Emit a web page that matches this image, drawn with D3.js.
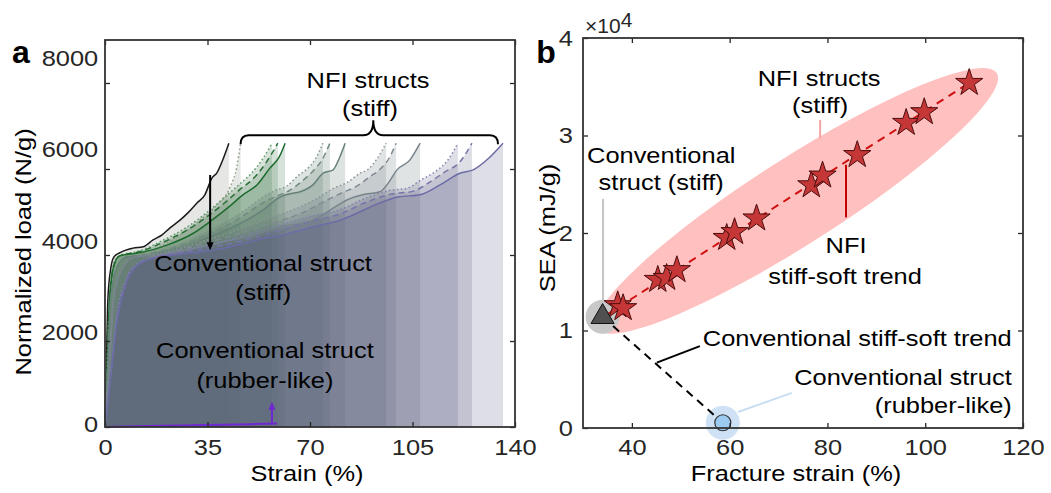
<!DOCTYPE html>
<html>
<head>
<meta charset="utf-8">
<script src="https://cdn.jsdelivr.net/npm/d3@7"></script>
<style>
  body { margin: 0; background: #fff; }
  text { font-family: "Liberation Sans", Arial, sans-serif; fill: #000; }
  .tick text { fill: #262626; }
</style>
</head>
<body>
<svg id="fig" width="1051" height="493"></svg>
<script>
// ---------------------------------------------------------------------------
// Data (panel a: strain %, normalized load N/g)
const aStrainTicks = [0, 35, 70, 105, 140];
const aLoadTicks = [0, 2000, 4000, 6000, 8000];

const convStiff = [[0,0],[0.5,1500],[1,3000],[2,3700],[3,3950],[5,4050],[9.6,4160],[13,4190],[16.4,4350],[19.5,4470],[22.2,4630],[25.6,4810],[28.3,4980],[31.4,5210],[34.1,5400],[36.5,5790],[38.2,5910],[40.2,6210],[42.3,6600]];
const convRubber = [[0,0],[10,15],[20,28],[30,40],[40,52],[50,66],[58.8,80]];

const nfiG1Dot = [[0,0],[0.7,1500],[1.5,3000],[2.5,3700],[4,3950],[10,4000],[15.4,4070],[21.2,4280],[26.6,4510],[32.4,4810],[38.2,5160],[42.7,5580],[45,6050],[46.3,6600]];

const nfiG2Dot = [[0,0],[0.8,1500],[1.6,3000],[3,3750],[5,3980],[12,4100],[20,4350],[28,4650],[35,5000],[41,5350],[46,5650],[50,5900],[54,6250],[57,6600]];
const nfiG2Dash = [[0,0],[0.8,1500],[1.6,3000],[3,3750],[5,3980],[12,4080],[20,4300],[28,4580],[35,4900],[41,5220],[46,5520],[51,5800],[55,6150],[59,6600]];
const nfiG2Sol = [[0,0],[0.8,1500],[1.6,3000],[3,3750],[5,3980],[12,4050],[21.2,4230],[30,4500],[36.5,4810],[42,5100],[47.1,5400],[51.9,5630],[56.3,6020],[59.5,6280],[61.5,6600]];

const nfiG3Dot = [[0,0],[1,1500],[2,3000],[4,3700],[7,3950],[15,4050],[25,4250],[35,4550],[42,4800],[48,5050],[54,5350],[58,5500],[62,5600],[66,5850],[69,6000],[72,6250],[74.4,6600]];
const nfiG3Dash = [[0,0],[1,1500],[2,3000],[4,3700],[7,3950],[15,4030],[25,4200],[35,4480],[42,4700],[48,4950],[54,5220],[59,5380],[63,5500],[67,5700],[71,5950],[74,6200],[76.8,6600]];
const nfiG3Sol = [[0,0],[1,1500],[2,3000],[4,3700],[7,3950],[15,4000],[25,4150],[35,4400],[42,4600],[48,4800],[54,5050],[59.8,5350],[63,5420],[66.6,5470],[71,5630],[74.4,5900],[77.9,5980],[80,6250],[82,6600]];

const nfiG4Dot = [[0,0],[1.5,1500],[3,3000],[6,3700],[10,3950],[20,4050],[30,4250],[40,4450],[50,4700],[60,4950],[66,5100],[72,5300],[78,5550],[83,5700],[87,5900],[90,6000],[93,6250],[96,6600]];
const nfiG4Dash = [[0,0],[1.5,1500],[3,3000],[6,3700],[10,3950],[20,4020],[30,4200],[40,4380],[50,4580],[60,4800],[68,5000],[75,5250],[81,5450],[86,5600],[90,5800],[94,6000],[97,6250],[99.4,6600]];
const nfiG4Sol = [[0,0],[1.5,1500],[3,3000],[6,3700],[10,3950],[20,4000],[30,4150],[40,4300],[50,4450],[59.8,4650],[71,4810],[77,5050],[82.6,5280],[88,5400],[93.9,5470],[97,5700],[99.7,5980],[104,6200],[107.6,6600]];

const nfiG5Dot = [[0,0],[2,1300],[4,2600],[7,3400],[11,3800],[18,3980],[30,4150],[45,4400],[60,4700],[70,4900],[80,5050],[90,5350],[97,5500],[103,5550],[108,5750],[113,5950],[117,6200],[120.5,6600]];
const nfiG5Dash = [[0,0],[2,1250],[4,2500],[7,3350],[11,3780],[18,3960],[30,4100],[45,4300],[60,4580],[70,4780],[80,4950],[90,5250],[98,5420],[105,5480],[111,5700],[116,5930],[121,6150],[125.3,6600]];
const nfiG5Sol = [[0,0],[2,1200],[4,2400],[7,3300],[11,3750],[17.8,3950],[30,4050],[40,4150],[55.3,4400],[59.8,4450],[71,4650],[80.3,4810],[93.9,5210],[100,5350],[107.6,5400],[114.4,5630],[121.2,5900],[125.7,5980],[131,6250],[135.9,6600]];

// Data (panel b: fracture strain %, SEA x1e4 mJ/g)
const bStrainTicks = [40, 60, 80, 100, 120];
const bSeaTicks = [0, 1, 2, 3, 4];
const nfiStrain = [37.1, 38.2, 45.3, 47.1, 49.2, 59.4, 61.0, 65.5, 76.7, 79.0, 86.1, 96.1, 99.8, 109.0];
const nfiSEA = [1.26, 1.23, 1.52, 1.54, 1.62, 1.95, 2.01, 2.15, 2.49, 2.59, 2.80, 3.13, 3.24, 3.54];
const convStiffPt = [34.0, 1.14];
const convRubberPt = [58.6, 0.054];

// ---------------------------------------------------------------------------
const FS = 22.5, SX = 1.13, AX = '#262626';
const svg = d3.select('#fig');

function label(g, x, y, str, anchor, opts) {
  opts = opts || {};
  const rot = opts.rotate ? ' rotate(-90)' : '';
  return g.append('text')
    .attr('transform', `translate(${x},${y})${rot} scale(${opts.sx || SX},1)`)
    .attr('text-anchor', anchor || 'middle')
    .style('font-size', (opts.size || FS) + 'px')
    .style('font-weight', opts.weight || 'normal')
    .text(str);
}

function frame(g, x, y, tickValsX, tickValsY, box) {
  // inward ticks on all four sides + box
  const tk = 5;
  const clean = s => s.call(a => a.select('.domain').remove())
    .selectAll('.tick line').attr('stroke', AX).attr('stroke-width', 1.3);
  g.append('g').attr('transform', `translate(0,${box.b})`)
    .call(d3.axisTop(x).tickValues(tickValsX).tickSize(tk).tickFormat('')).call(clean);
  g.append('g').attr('transform', `translate(0,${box.t})`)
    .call(d3.axisBottom(x).tickValues(tickValsX).tickSize(tk).tickFormat('')).call(clean);
  g.append('g').attr('transform', `translate(${box.l},0)`)
    .call(d3.axisRight(y).tickValues(tickValsY).tickSize(tk).tickFormat('')).call(clean);
  g.append('g').attr('transform', `translate(${box.r},0)`)
    .call(d3.axisLeft(y).tickValues(tickValsY).tickSize(tk).tickFormat('')).call(clean);
  g.append('rect').attr('x', box.l).attr('y', box.t)
    .attr('width', box.r - box.l).attr('height', box.b - box.t)
    .attr('fill', 'none').attr('stroke', '#333').attr('stroke-width', 1.8);
}

function styleLabels(sel) {
  sel.call(a => a.select('.domain').remove());
  sel.selectAll('.tick line').remove();
  sel.selectAll('.tick text')
    .style('font-size', FS + 'px')
    .attr('transform', `scale(${SX},1)`);
}

// ---------------------------------------------------------------------------
// Panel a
const boxA = { l: 105, r: 515, t: 40, b: 427 };
const xA = d3.scaleLinear().domain([0, 140]).range([boxA.l, boxA.r]);
const yA = d3.scaleLinear().domain([0, 9000]).range([boxA.b, boxA.t]);
const yALab = d3.scaleLinear().domain([0, 8000]).range([424, 58]);

const curves = [
  { data: convStiff, color: '#1a1a1a', fill: '#84887f', dash: null },
  { data: nfiG1Dot, color: '#8e9c84', fill: '#7f8c76', dash: '1.5,2.5' },
  { data: nfiG2Dot, color: '#5e9a68', fill: '#377344', dash: '1.5,2.5' },
  { data: nfiG2Dash, color: '#2a7038', fill: '#377344', dash: '6,4' },
  { data: nfiG2Sol, color: '#1e6b2e', fill: '#377344', dash: null },
  { data: nfiG3Dot, color: '#7f968c', fill: '#557366', dash: '1.5,2.5' },
  { data: nfiG3Dash, color: '#718a80', fill: '#557366', dash: '6,4' },
  { data: nfiG3Sol, color: '#66807a', fill: '#557366', dash: null },
  { data: nfiG4Dot, color: '#8a949a', fill: '#64757a', dash: '1.5,2.5' },
  { data: nfiG4Dash, color: '#808a92', fill: '#64757a', dash: '6,4' },
  { data: nfiG4Sol, color: '#78848c', fill: '#64757a', dash: null },
  { data: nfiG5Dot, color: '#8282b4', fill: '#5c5c84', dash: '1.5,2.5' },
  { data: nfiG5Dash, color: '#7676aa', fill: '#5c5c84', dash: '6,4' },
  { data: nfiG5Sol, color: '#6c6ca6', fill: '#5c5c84', dash: null }
];

const gA = svg.append('g');
const area = d3.area().x(d => xA(d[0])).y0(yA(0)).y1(d => yA(d[1])).curve(d3.curveMonotoneX);
const line = d3.line().x(d => xA(d[0])).y(d => yA(d[1])).curve(d3.curveMonotoneX);

gA.selectAll('path.fill').data(curves).enter().append('path')
  .attr('class', 'fill').attr('d', d => area(d.data))
  .attr('fill', d => d.fill).attr('fill-opacity', 0.2).attr('stroke', 'none');
gA.selectAll('path.curve').data(curves).enter().append('path')
  .attr('class', 'curve').attr('d', d => line(d.data))
  .attr('fill', 'none').attr('stroke', d => d.color).attr('stroke-width', 1.5)
  .attr('stroke-dasharray', d => d.dash);
gA.append('path').attr('d', line(convRubber))
  .attr('fill', 'none').attr('stroke', '#7028d0').attr('stroke-width', 2);

frame(gA, xA, yA, aStrainTicks, aLoadTicks, boxA);
gA.append('g').attr('transform', `translate(0,${boxA.b})`)
  .call(d3.axisBottom(xA).tickValues(aStrainTicks).tickFormat(d3.format('d')).tickSize(0).tickPadding(12))
  .call(styleLabels);
gA.append('g').attr('transform', `translate(${boxA.l},0)`)
  .call(d3.axisLeft(yALab).tickValues(aLoadTicks).tickFormat(d3.format('d')).tickSize(0).tickPadding(6))
  .call(styleLabels);

// brace over NFI curves
const nfiEnds = curves.slice(1).map(c => c.data[c.data.length - 1][0]);
const peak = d3.max(curves, c => d3.max(c.data, d => d[1]));
{
  const x1 = xA(d3.min(nfiEnds)), x2 = xA(d3.max(nfiEnds)) - 5, yb = yA(peak) + 1;
  const xm = (x1 + x2) / 2 + 4, h = yb - 9, r = 8;
  const p = d3.path();
  p.moveTo(x1, yb); p.quadraticCurveTo(x1, h, x1 + r, h);
  p.lineTo(xm - 10, h); p.quadraticCurveTo(xm, h, xm, yb - 24);
  p.quadraticCurveTo(xm, h, xm + 10, h);
  p.lineTo(x2 - r, h); p.quadraticCurveTo(x2, h, x2, yb);
  gA.append('path').attr('d', p.toString()).attr('fill', 'none')
    .attr('stroke', '#000').attr('stroke-width', 2);
}

// arrows
function arrow(g, x1, y1, x2, y2, color) {
  const ang = Math.atan2(y2 - y1, x2 - x1), L = 8, W = 3.5;
  g.append('line').attr('x1', x1).attr('y1', y1)
    .attr('x2', x2 - Math.cos(ang) * L * 0.8).attr('y2', y2 - Math.sin(ang) * L * 0.8)
    .attr('stroke', color).attr('stroke-width', 2);
  const bx = x2 - Math.cos(ang) * L, by = y2 - Math.sin(ang) * L;
  g.append('path').attr('d', `M${x2},${y2}L${bx - Math.sin(ang) * W},${by + Math.cos(ang) * W}L${bx + Math.sin(ang) * W},${by - Math.cos(ang) * W}Z`)
    .attr('fill', color);
}
arrow(gA, xA(35.9), yA(5860), xA(35.9), yA(4110), '#000');
arrow(gA, xA(57), yA(60), xA(57), yA(590), '#7028d0');

label(gA, xA(89.8), yA(7884), 'NFI structs');
label(gA, xA(90.5), yA(7233), '(stiff)');
label(gA, xA(54), yA(3628), 'Conventional struct');
label(gA, xA(54), yA(2953), '(stiff)');
label(gA, xA(54.6), yA(1605), 'Conventional struct');
label(gA, xA(54.6), yA(907), '(rubber-like)');

label(svg, 307, 481, 'Strain (%)');
label(svg, 31, 252, 'Normalized load (N/g)', 'middle', { rotate: true });
label(svg, 21, 63, 'a', 'middle', { size: 32, weight: 'bold', sx: 1 });

// ---------------------------------------------------------------------------
// Panel b
const boxB = { l: 583, r: 1023, t: 38, b: 428 };
const xB = d3.scaleLinear().domain([30, 120]).range([boxB.l, boxB.r]);
const yB = d3.scaleLinear().domain([0, 4]).range([boxB.b, boxB.t]);
const gB = svg.append('g');

const stars = nfiStrain.map((s, i) => [s, nfiSEA[i]]);
// least-squares trend through NFI points
const mx = d3.mean(nfiStrain), my = d3.mean(nfiSEA);
const slope = d3.sum(stars, d => (d[0] - mx) * (d[1] - my)) / d3.sum(stars, d => (d[0] - mx) ** 2);
const fit = s => my + slope * (s - mx);
const fitX = [d3.min(nfiStrain) - 2.3, d3.max(nfiStrain)];

// shaded ellipse along the NFI trend
{
  const p1 = [xB(fitX[0]), yB(fit(fitX[0]))], p2 = [xB(fitX[1]), yB(fit(fitX[1]))];
  const cx = (p1[0] + p2[0]) / 2 + 9, cy = (p1[1] + p2[1]) / 2 + 2;
  const ang = Math.atan2(p2[1] - p1[1], p2[0] - p1[0]) * 180 / Math.PI;
  const rx = Math.hypot(p2[0] - p1[0], p2[1] - p1[1]) / 2 + 22;
  gB.append('ellipse').attr('cx', 0).attr('cy', 0).attr('rx', rx).attr('ry', 43)
    .attr('transform', `translate(${cx},${cy}) rotate(${ang})`)
    .attr('fill', '#ffc0c0');
}

// halos
gB.append('circle').attr('cx', xB(convStiffPt[0])).attr('cy', yB(convStiffPt[1])).attr('r', 17)
  .attr('fill', '#c8c8c8');
gB.append('circle').attr('cx', xB(convRubberPt[0])).attr('cy', yB(convRubberPt[1])).attr('r', 17)
  .attr('fill', '#cfe1f4');

// pointer lines
const ptr = (a, b, color) => gB.append('line')
  .attr('x1', xB(a[0])).attr('y1', yB(a[1])).attr('x2', xB(b[0])).attr('y2', yB(b[1]))
  .attr('stroke', color).attr('stroke-width', 2);
ptr([78.5, 3.16], [78.5, 2.97], '#f4a4a4');
ptr([34.1, 2.35], [34.1, 1.31], '#c4c4c4');
ptr([83.8, 2.70], [83.8, 2.16], '#c00000');
ptr([53.9, 0.84], [45.1, 0.67], '#000');
ptr([72.7, 0.36], [61.7, 0.164], '#c8ddf2');

// trend lines
gB.append('line').attr('x1', xB(fitX[0])).attr('y1', yB(fit(fitX[0])))
  .attr('x2', xB(fitX[1])).attr('y2', yB(fit(fitX[1])))
  .attr('stroke', '#d01010').attr('stroke-width', 2).attr('stroke-dasharray', '8,6');
gB.append('line').attr('x1', xB(convStiffPt[0])).attr('y1', yB(convStiffPt[1]))
  .attr('x2', xB(convRubberPt[0])).attr('y2', yB(convRubberPt[1]))
  .attr('stroke', '#000').attr('stroke-width', 2).attr('stroke-dasharray', '8,6');

// markers
gB.selectAll('path.star').data(stars).enter().append('path')
  .attr('class', 'star')
  .attr('d', d3.symbol(d3.symbolStar, 230))
  .attr('transform', d => `translate(${xB(d[0])},${yB(d[1])})`)
  .attr('fill', '#c53636').attr('stroke', '#4a0e0e').attr('stroke-width', 1);
gB.append('path').attr('d', d3.symbol(d3.symbolTriangle, 230))
  .attr('transform', `translate(${xB(convStiffPt[0])},${yB(convStiffPt[1])})`)
  .attr('fill', '#505050').attr('stroke', '#111').attr('stroke-width', 1);
gB.append('circle').attr('cx', xB(convRubberPt[0])).attr('cy', yB(convRubberPt[1])).attr('r', 8)
  .attr('fill', '#9ccaf0').attr('stroke', '#333').attr('stroke-width', 1.2);

frame(gB, xB, yB, bStrainTicks, bSeaTicks, boxB);
gB.append('g').attr('transform', `translate(0,${boxB.b})`)
  .call(d3.axisBottom(xB).tickValues(bStrainTicks).tickFormat(d3.format('d')).tickSize(0).tickPadding(11))
  .call(styleLabels);
gB.append('g').attr('transform', `translate(${boxB.l},0)`)
  .call(d3.axisLeft(yB).tickValues(bSeaTicks).tickFormat(d3.format('d')).tickSize(0).tickPadding(9))
  .call(styleLabels);

label(gB, xB(78.3), yB(3.51), 'NFI structs');
label(gB, xB(78.5), yB(3.23), '(stiff)');
label(gB, xB(46.0), yB(2.72), 'Conventional');
label(gB, xB(46.0), yB(2.44), 'struct (stiff)');
label(gB, xB(83.8), yB(1.79), 'NFI');
label(gB, xB(83.6), yB(1.48), 'stiff-soft trend');
label(gB, xB(117.7), yB(0.84), 'Conventional stiff-soft trend', 'end');
label(gB, xB(117.7), yB(0.44), 'Conventional struct', 'end');
label(gB, xB(117.7), yB(0.154), '(rubber-like)', 'end');

label(svg, 796, 481, 'Fracture strain (%)');
label(svg, 555, 228, 'SEA (mJ/g)', 'middle', { rotate: true });
label(svg, 546, 63, 'b', 'middle', { size: 32, weight: 'bold', sx: 1 });
{
  const t = svg.append('text').attr('transform', 'translate(585,33)')
    .style('font-size', '21px').style('fill', '#262626');
  t.append('tspan').text('\u00d710');
  t.append('tspan').attr('dy', -6).text('4');
}
</script>
</body>
</html>
